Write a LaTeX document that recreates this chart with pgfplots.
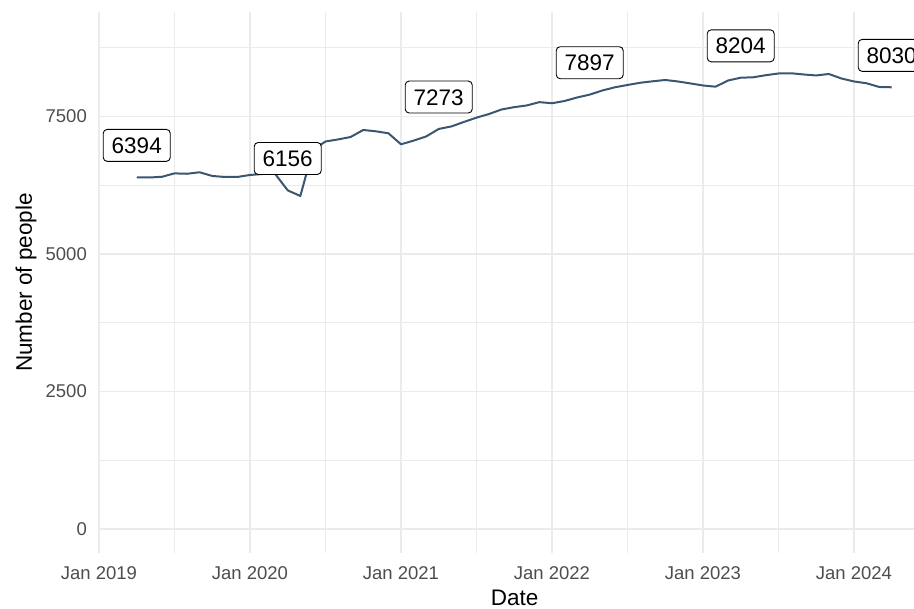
\documentclass[border=0pt]{standalone}
\usepackage{pgfplots}
\pgfplotsset{compat=1.18}
\usepackage{fontspec}
\setmainfont{Liberation Sans}
\definecolor{linec}{HTML}{3A5670}
\definecolor{gridc}{HTML}{EBEBEB}
\definecolor{tickc}{HTML}{4D4D4D}
\begin{document}
\begin{tikzpicture}[x=1pt,y=1pt]
\useasboundingbox (0,0) rectangle (914,609);
\begin{axis}[at={(99pt,56pt)}, anchor=south west, width=815pt, height=541pt, scale only axis,
 xmin=0, xmax=64.77, ymin=-436, ymax=9399,
 axis line style={draw=none}, tick style={draw=none},
 xtick={0,12,24,36,48,60},
 xticklabels={Jan 2019,Jan 2020,Jan 2021,Jan 2022,Jan 2023,Jan 2024},
 minor xtick={6,18,30,42,54},
 ytick={0,2500,5000,7500}, yticklabels={0,2500,5000,7500},
 minor ytick={1250,3750,6250,8750},
 grid=both,
 major grid style={gridc, line width=1.6pt},
 minor grid style={gridc, line width=0.9pt},
 ticklabel style={font=\fontsize{18.5}{20}\selectfont, text=tickc},
 xticklabel style={anchor=base, inner sep=0pt, yshift=-26.6pt},
 yticklabel style={anchor=east, inner sep=0pt, xshift=-12pt},
 xlabel={Date}, ylabel={Number of people},
 xlabel style={at={(axis description cs:0.51,-0.0832)}, anchor=center, font=\fontsize{22.5}{24}\selectfont},
 ylabel style={at={(axis description cs:-0.0896,0.5)}, anchor=center, font=\fontsize{22.5}{24}\selectfont},
 clip=false
]
\addplot[linec, line width=2pt, line join=round, mark=none] coordinates {
(3,6394) (4,6390) (5,6403) (6,6465) (7,6458) (8,6485) (9,6418) (10,6400) (11,6400) (12,6436)
(13,6454) (14,6454) (15,6156) (16,6054) (17,6890) (18,7045) (19,7082) (20,7127) (21,7254) (22,7230)
(23,7194) (24,6994) (25,7060) (26,7136) (27,7273) (28,7318) (29,7400) (30,7478) (31,7545) (32,7627)
(33,7669) (34,7700) (35,7760) (36,7740) (37,7781) (38,7845) (39,7897) (40,7972) (41,8030) (42,8072)
(43,8112) (44,8139) (45,8163) (46,8136) (47,8100) (48,8063) (49,8041) (50,8154) (51,8204) (52,8212)
(53,8250) (54,8281) (55,8285) (56,8263) (57,8245) (58,8272) (59,8190) (60,8136) (61,8103) (62,8036)
(63,8030)
};
\addplot[draw=none, mark=none, nodes near coords, point meta=explicit symbolic,
 nodes near coords style={anchor=center, draw=black, fill=white, rounded corners=4pt, line width=0.9pt,
 font=\fontsize{22.5}{24}\selectfont, text=black, inner xsep=8.5pt, inner ysep=8pt,
 text height=16pt, text depth=0pt}] coordinates {
(3,6974) [6394] (15,6736) [6156] (27,7853) [7273] (39,8477) [7897] (51,8784) [8204] (63,8610) [8030]
};
\end{axis}
\end{tikzpicture}
\end{document}
